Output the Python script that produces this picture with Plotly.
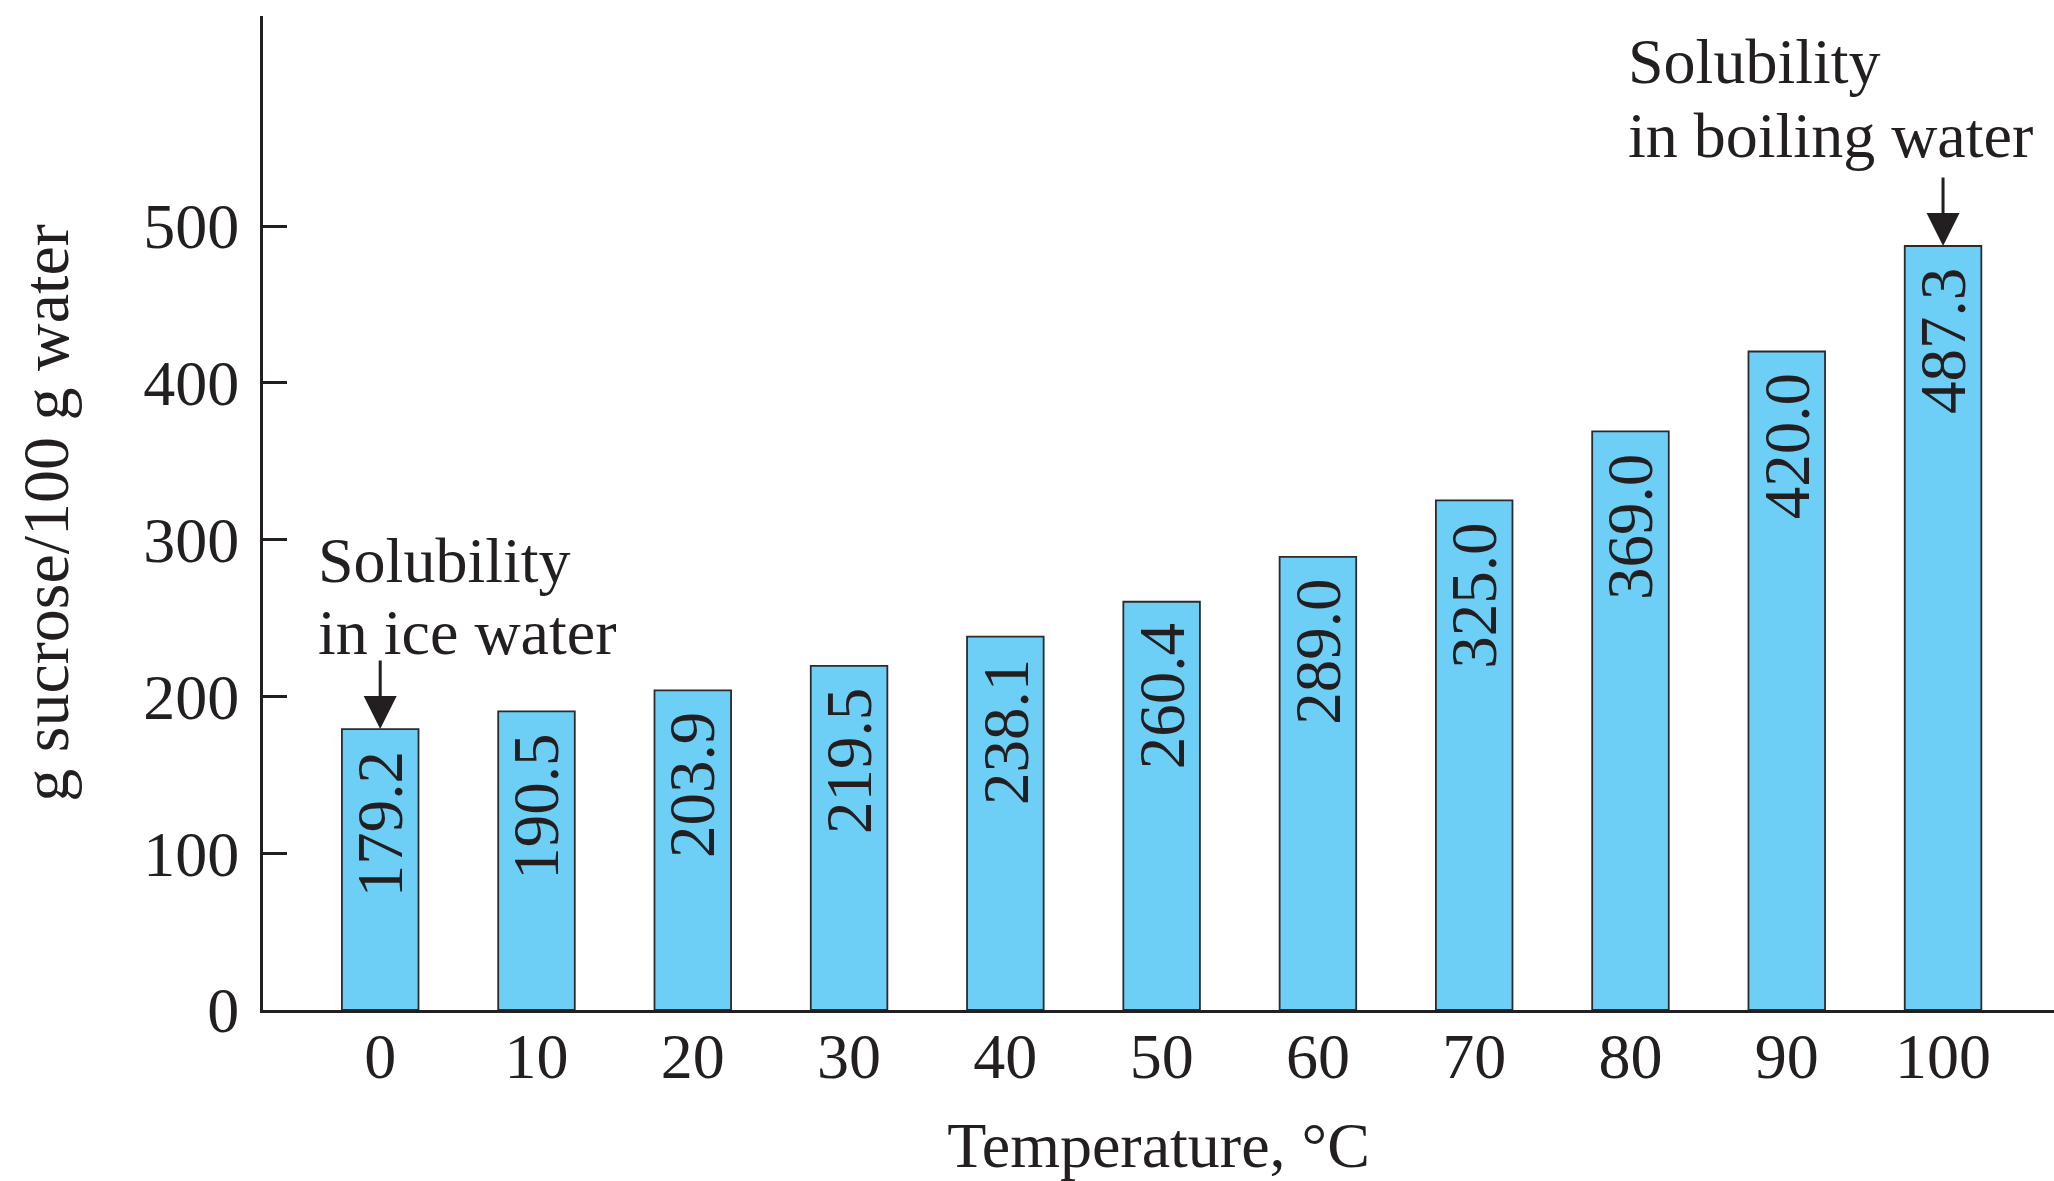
import plotly.graph_objects as go

temperatures = [0, 10, 20, 30, 40, 50, 60, 70, 80, 90, 100]
solubility = [179.2, 190.5, 203.9, 219.5, 238.1, 260.4, 289.0, 325.0, 369.0, 420.0, 487.3]
y_ticks = [0, 100, 200, 300, 400, 500]

FONT = "Liberation Serif"
INK = "#231F20"
BAR = "#6DCFF6"

fig = go.Figure()
fig.add_trace(go.Bar(
    x=temperatures,
    y=solubility,
    width=4.9,
    marker=dict(color=BAR, line=dict(color="#2B2B2B", width=1.8)),
    hoverinfo="skip",
))

annotations = []
# value labels inside bars, near the top
for t, v in zip(temperatures, solubility):
    annotations.append(dict(
        x=t, y=v, xref="x", yref="y", text=f"{v:.1f}", showarrow=False,
        textangle=-90, xanchor="center", yanchor="top", yshift=-20,
        font=dict(family=FONT, size=65, color=INK),
    ))

annotations += [
    # ice water label
    dict(x=-4.1, y=286.5, xref="x", yref="y", text="Solubility", showarrow=False,
         xanchor="left", yanchor="middle", font=dict(family=FONT, size=64, color=INK)),
    dict(x=-4.1, y=240.6, xref="x", yref="y", text="in ice water", showarrow=False,
         xanchor="left", yanchor="middle", font=dict(family=FONT, size=64, color=INK)),
    dict(x=temperatures[0], y=solubility[0], xref="x", yref="y", text="", showarrow=True,
         ax=0, ay=-70, arrowhead=2, arrowsize=2.2, arrowwidth=3, arrowcolor=INK, standoff=0),
    # boiling water label
    dict(x=79.7, y=605, xref="x", yref="y", text="Solubility", showarrow=False,
         xanchor="left", yanchor="middle", font=dict(family=FONT, size=64, color=INK)),
    dict(x=79.7, y=558, xref="x", yref="y", text="in boiling water", showarrow=False,
         xanchor="left", yanchor="middle", font=dict(family=FONT, size=64, color=INK)),
    dict(x=temperatures[-1], y=solubility[-1], xref="x", yref="y", text="", showarrow=True,
         ax=0, ay=-70, arrowhead=2, arrowsize=2.2, arrowwidth=3, arrowcolor=INK, standoff=0),
]

fig.update_layout(
    width=2054, height=1181,
    margin=dict(l=263, r=0, t=16, b=171),
    paper_bgcolor="white", plot_bgcolor="white",
    showlegend=False,
    annotations=annotations,
    font=dict(family=FONT, color=INK, size=64),
    xaxis=dict(
        range=[-7.5, 107.1],
        tickvals=temperatures,
        ticktext=[str(t) for t in temperatures],
        showline=True, linecolor=INK, linewidth=3,
        ticks="", showgrid=False, zeroline=False,
        tickfont=dict(family=FONT, size=64, color=INK),
        ticklabelstandoff=-12,
        automargin=False,
        title=dict(text="Temperature, °C", font=dict(family=FONT, size=64, color=INK), standoff=32),
        fixedrange=True,
    ),
    yaxis=dict(
        range=[0, 634],
        tickvals=y_ticks,
        ticktext=[str(t) for t in y_ticks],
        showline=True, linecolor=INK, linewidth=3,
        ticks="inside", ticklen=24, tickwidth=3, tickcolor=INK,
        showgrid=False, zeroline=False,
        tickfont=dict(family=FONT, size=64, color=INK),
        ticklabelstandoff=8,
        automargin=False,
        title=dict(text="g sucrose/100 g water", font=dict(family=FONT, size=66, color=INK), standoff=54),
        fixedrange=True,
    ),
)

fig.write_html(
    "out.html",
    config={"displayModeBar": False},
    post_script="document.body.style.margin='0';document.body.style.overflow='hidden';",
)
